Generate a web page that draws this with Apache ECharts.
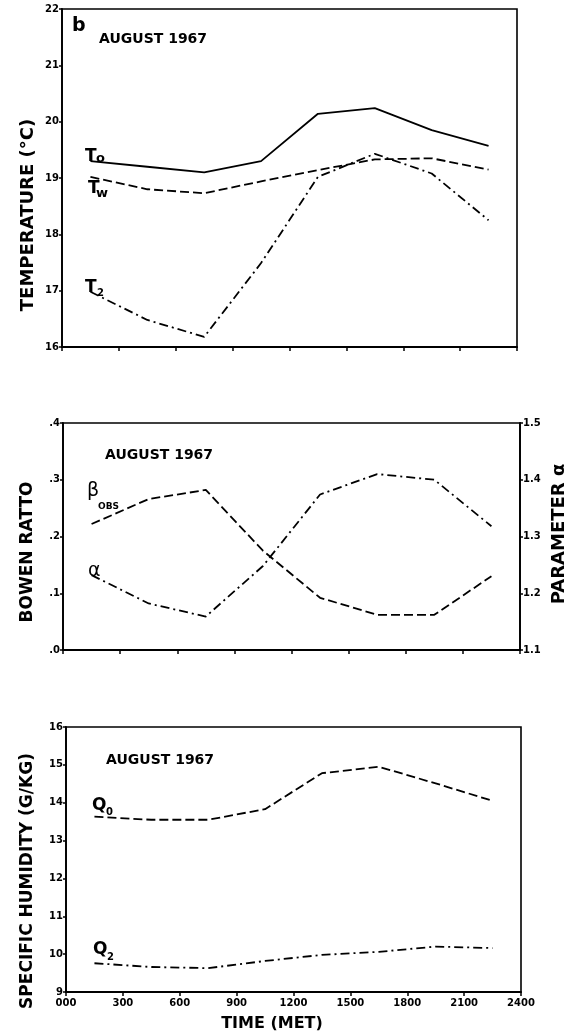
<!DOCTYPE html>
<html>
<head>
<meta charset="utf-8">
<script src="https://cdn.jsdelivr.net/npm/echarts@6/dist/echarts.min.js"></script>
<style>
html,body{margin:0;padding:0;background:#fff;}
#chart{width:569px;height:1036px;}
</style>
</head>
<body>
<div id="chart"></div>
<script>
// ---- data ----
const times = [150, 450, 750, 1050, 1350, 1650, 1950, 2250];
const tempT0 = [19.30, 19.20, 19.10, 19.30, 20.14, 20.24, 19.85, 19.57];
const tempTw = [19.02, 18.80, 18.73, 18.94, 19.14, 19.33, 19.35, 19.15];
const tempT2 = [16.98, 16.48, 16.18, 17.49, 19.02, 19.43, 19.08, 18.25];
const bowenObs = [0.222, 0.266, 0.282, 0.175, 0.092, 0.062, 0.062, 0.130];
const alphaParam = [1.232, 1.182, 1.159, 1.248, 1.374, 1.410, 1.400, 1.318];
const humQ0 = [13.63, 13.55, 13.55, 13.83, 14.78, 14.95, 14.51, 14.05];
const humQ2 = [9.76, 9.66, 9.63, 9.82, 9.98, 10.06, 10.20, 10.16];
const timeTicks = ['000','300','600','900','1200','1500','1800','2100','2400'];

const pair = arr => times.map((t, i) => [t, arr[i]]);
const DASH = [9, 4];
const DASHDOT = [9, 4, 2, 4];

function xAx(grid, showLabels) {
  return {
    type: 'value', gridIndex: grid, min: 0, max: 2400, interval: 300,
    axisLine: {show: true, lineStyle: {color: '#000', width: 1.8}},
    axisTick: {show: true, length: 4, lineStyle: {color: '#000', width: 1.5}},
    splitLine: {show: false},
    axisLabel: {
      show: showLabels, margin: 6, color: '#000', fontFamily: 'DejaVu Sans',
      fontWeight: 'bold', fontSize: 10,
      formatter: v => timeTicks[Math.round(v / 300)]
    }
  };
}
function yAx(grid, min, max, interval, fmt, pos) {
  return {
    type: 'value', gridIndex: grid, min: min, max: max, interval: interval,
    position: pos || 'left',
    axisLine: {show: true, lineStyle: {color: '#000', width: 1.8}},
    axisTick: {show: true, length: 3, lineStyle: {color: '#000', width: 1.5}},
    splitLine: {show: false},
    axisLabel: {
      show: true, margin: 3, color: '#000', fontFamily: 'DejaVu Sans',
      fontWeight: 'bold', fontSize: 10, formatter: fmt
    }
  };
}
function line(name, xi, yi, arr, type) {
  return {
    name: name, type: 'line', xAxisIndex: xi, yAxisIndex: yi,
    data: pair(arr), symbol: 'none', smooth: false,
    lineStyle: {color: '#000', width: 1.8, type: type},
    z: 3
  };
}
function txt(text, x, y, size, opts) {
  opts = opts || {};
  return {
    type: 'text', x: x, y: y, rotation: opts.rot || 0, z: 10,
    style: {
      text: text, fill: '#000',
      font: (opts.weight || 'bold') + ' ' + size + 'px "DejaVu Sans"',
      textAlign: opts.align || 'left', textVerticalAlign: 'middle'
    }
  };
}

const chart = echarts.init(document.getElementById('chart'), null, {renderer: 'canvas'});
chart.setOption({
  animation: false,
  backgroundColor: '#fff',
  grid: [
    {left: 62, top: 9, width: 455, height: 338, show: true, borderColor: '#000', borderWidth: 1.6, backgroundColor: 'transparent'},
    {left: 63, top: 423, width: 457, height: 227, show: true, borderColor: '#000', borderWidth: 1.6, backgroundColor: 'transparent'},
    {left: 66, top: 727, width: 455, height: 265, show: true, borderColor: '#000', borderWidth: 1.6, backgroundColor: 'transparent'}
  ],
  xAxis: [xAx(0, false), xAx(1, false), xAx(2, true)],
  yAxis: [
    yAx(0, 16, 22, 1, v => String(v)),
    yAx(1, 0, 0.4, 0.1, v => '.' + Math.round(v * 10)),
    yAx(1, 1.1, 1.5, 0.1, v => v.toFixed(1), 'right'),
    yAx(2, 9, 16, 1, v => String(v))
  ],
  series: [
    line('T0', 0, 0, tempT0, 'solid'),
    line('Tw', 0, 0, tempTw, DASH),
    line('T2', 0, 0, tempT2, DASHDOT),
    line('beta_obs', 1, 1, bowenObs, DASH),
    line('alpha', 1, 2, alphaParam, DASHDOT),
    line('Q0', 2, 3, humQ0, DASH),
    line('Q2', 2, 3, humQ2, DASHDOT)
  ],
  graphic: [
    txt('b', 72, 26, 19),
    txt('AUGUST 1967', 99, 39, 14),
    txt('AUGUST 1967', 105, 455, 14),
    txt('AUGUST 1967', 106, 760, 14),
    txt('T', 85, 157, 17), txt('o', 96, 159, 13),
    txt('T', 88, 189, 17), txt('w', 96, 194, 13),
    txt('T', 85, 288, 17), txt('2', 97, 293, 10),
    txt('β', 87, 491, 19, {weight: 'normal'}), txt('OBS', 98, 507, 9),
    txt('α', 88, 571, 19, {weight: 'normal'}),
    txt('Q', 92, 806, 17), txt('0', 106, 812, 10),
    txt('Q', 93, 950, 17), txt('2', 107, 957, 10),
    txt('TEMPERATURE (°C)', 28, 215, 18, {rot: Math.PI / 2, align: 'center'}),
    txt('BOWEN RATTO', 28, 552, 17, {rot: Math.PI / 2, align: 'center'}),
    txt('PARAMETER α', 559, 534, 18, {rot: Math.PI / 2, align: 'center'}),
    txt('SPECIFIC HUMIDITY (G/KG)', 28, 881, 17, {rot: Math.PI / 2, align: 'center'}),
    txt('TIME (MET)', 272, 1024, 16, {align: 'center'})
  ]
});
</script>
</body>
</html>
